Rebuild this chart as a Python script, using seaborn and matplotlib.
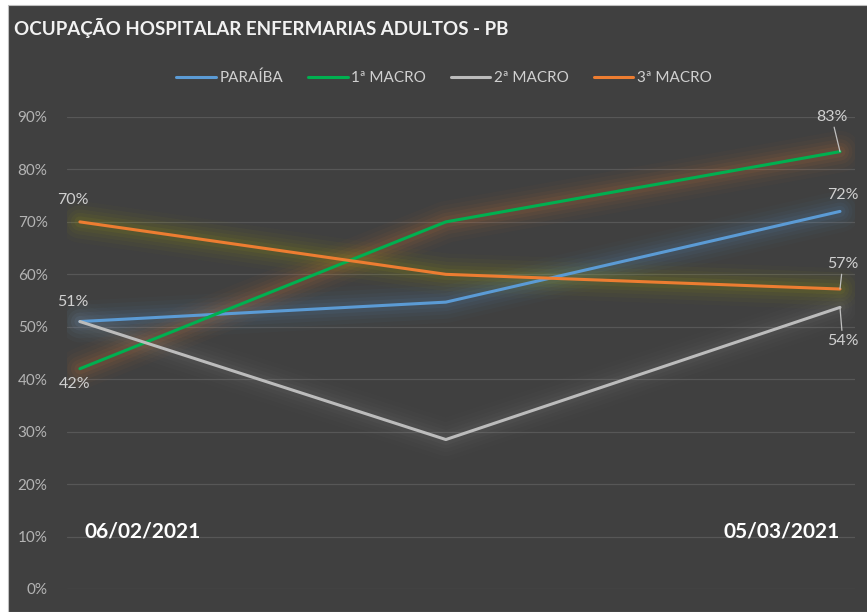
import matplotlib
matplotlib.use("Agg")
import matplotlib.pyplot as plt
from matplotlib import font_manager
import seaborn as sns
import pandas as pd
import numpy as np

# ---- data ----
dates = ["2021-02-06", "2021-02-19", "2021-03-05"]
series_names = ["PARAÍBA", "1ª MACRO", "2ª MACRO", "3ª MACRO"]
paraiba = [0.51, 0.547, 0.72]
macro1 = [0.42, 0.70, 0.834]
macro2 = [0.51, 0.285, 0.537]
macro3 = [0.70, 0.60, 0.572]
yticks = [0, 0.1, 0.2, 0.3, 0.4, 0.5, 0.6, 0.7, 0.8, 0.9]
date_labels = ["06/02/2021", "05/03/2021"]
title = "OCUPAÇÃO HOSPITALAR ENFERMARIAS ADULTOS - PB"

line_colors = ["#5b9bd5", "#00b050", "#bcbcbc", "#ed7d31"]
glow_colors = ["#5b9bd5", "#ed7d31", "#b0b0b0", "#b5b500"]
glow_strength = [1.0, 1.0, 0.55, 1.0]

avail = {f.name for f in font_manager.fontManager.ttflist}
narrow = "Liberation Sans Narrow" if "Liberation Sans Narrow" in avail else "Lato"

sns.set_theme(style="dark")
plt.rcParams["font.family"] = [narrow, "DejaVu Sans"]

df = pd.DataFrame({
    "date": pd.to_datetime(dates * 4),
    "serie": np.repeat(series_names, 3),
    "valor": paraiba + macro1 + macro2 + macro3,
})

bg = "#404040"
fig = plt.figure(figsize=(8.67, 6.12), dpi=100, facecolor="white")
fig.patches.append(plt.Rectangle((8 / 867, 0), 1, 1 - 5 / 612, transform=fig.transFigure,
                                 facecolor=bg, edgecolor="#bfbfbf", linewidth=0.8, zorder=-5))

ax = fig.add_axes([67 / 867, 1 - 589 / 612, (855 - 67) / 867, (589 - 117) / 612])
ax.set_zorder(2)
ax.set_facecolor(bg)
ax.patch.set_alpha(0)

# glow
vals = [paraiba, macro1, macro2, macro3]
xd = pd.to_datetime(dates)
for v, gc, gs in zip(vals, glow_colors, glow_strength):
    for lw, a in [(30, 0.025), (24, 0.035), (18, 0.045), (13, 0.055), (8, 0.07)]:
        ax.plot(xd, v, color=gc, lw=lw, alpha=a * gs, solid_capstyle="round",
                solid_joinstyle="round", zorder=1)

sns.lineplot(data=df, x="date", y="valor", hue="serie", hue_order=series_names,
             palette=line_colors, linewidth=2.2, ax=ax, zorder=3)

ax.set_ylim(0, 0.9)
ax.set_xlim(xd[0] - pd.Timedelta(hours=11), xd[-1] + pd.Timedelta(hours=12.8))
ax.set_yticks(yticks)
ax.set_yticklabels([f"{int(round(t*100))}%" for t in yticks], color="#b4b4b4", fontsize=11)
ax.tick_params(axis="y", length=0, pad=14)
ax.set_xticks([])
ax.set_xlabel("")
ax.set_ylabel("")
ax.grid(axis="y", color="#575757", linewidth=0.9)
ax.grid(axis="x", visible=False)
for s in ax.spines.values():
    s.set_visible(False)

lab_col = "#d0d0d0"
fs = 11.5
def lab(x, y, dx, dy, leader=False):
    kw = dict(arrowprops=dict(arrowstyle="-", color="#bfbfbf", lw=0.9, shrinkA=0, shrinkB=0)) if leader else {}
    ax.annotate(f"{int(round(y*100))}%", xy=(x, y), xytext=(dx, dy), textcoords="offset points",
                ha="center", va="center", color=lab_col, fontsize=fs, zorder=5, **kw)

lab(xd[0], macro3[0], -5, 16)
lab(xd[0], paraiba[0], -5, 14)
lab(xd[0], macro1[0], -4, -11)
lab(xd[2], macro1[2], -6, 25, leader=True)
lab(xd[2], paraiba[2], 2, 12)
lab(xd[2], macro3[2], 2, 18, leader=True)
lab(xd[2], macro2[2], 2, -24, leader=True)

ax.text(xd[0] + pd.Timedelta(hours=4), 0.11, date_labels[0], ha="left", va="center", color="white",
        fontsize=15, fontweight="bold", transform=ax.transData)
ax.text(xd[2], 0.11, date_labels[1], ha="right", va="center", color="white",
        fontsize=15, fontweight="bold", transform=ax.transData)

fig.text(14 / 867, 1 - 28 / 612, title, ha="left", va="center", color="#f2f2f2",
         fontsize=13.5, fontweight="bold")

handles, labels = ax.get_legend_handles_labels()
leg = fig.legend(handles, labels, loc="center", bbox_to_anchor=(444 / 867, 1 - 78 / 612),
                 ncol=4, frameon=False, fontsize=11, handlelength=2.6, handletextpad=0.25,
                 columnspacing=1.6, labelcolor="#d0d0d0")
for h in leg.get_lines():
    h.set_linewidth(2.2)
if ax.get_legend():
    ax.get_legend().remove()

fig.savefig("out.png", dpi=100, facecolor=fig.get_facecolor())
